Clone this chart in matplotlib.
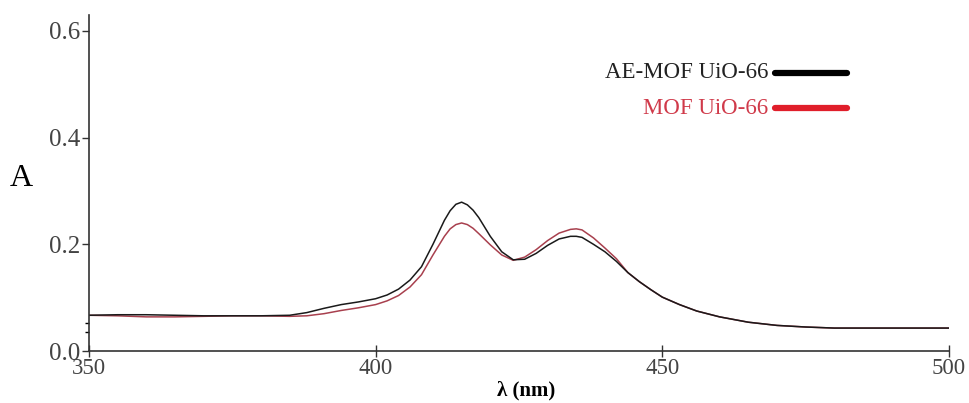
import matplotlib
matplotlib.use("Agg")
from matplotlib import pyplot as plt
from matplotlib.lines import Line2D

wavelength = [350, 355, 360, 365, 370, 375, 380, 385, 388, 391, 394, 397, 400,
              402, 404, 406, 408, 410, 412, 413, 414, 415, 416, 417, 418, 420,
              422, 424, 426, 428, 430, 432, 434, 435, 436, 438, 440, 442, 444,
              446, 448, 450, 453, 456, 460, 465, 470, 475, 480, 490, 500]

ae_mof = [0.067, 0.068, 0.068, 0.067, 0.066, 0.066, 0.066, 0.067, 0.072, 0.080,
          0.087, 0.092, 0.098, 0.105, 0.116, 0.133, 0.158, 0.200, 0.245, 0.263,
          0.275, 0.279, 0.274, 0.264, 0.250, 0.215, 0.186, 0.171, 0.172, 0.183,
          0.198, 0.210, 0.215, 0.215, 0.213, 0.200, 0.186, 0.168, 0.147, 0.130,
          0.115, 0.101, 0.087, 0.075, 0.064, 0.054, 0.048, 0.045, 0.043, 0.043,
          0.043]

mof = [0.067, 0.066, 0.064, 0.064, 0.065, 0.066, 0.066, 0.065, 0.066, 0.070,
       0.076, 0.081, 0.087, 0.094, 0.104, 0.120, 0.143, 0.180, 0.215, 0.229,
       0.237, 0.240, 0.237, 0.230, 0.220, 0.199, 0.180, 0.170, 0.176, 0.190,
       0.207, 0.221, 0.228, 0.229, 0.227, 0.212, 0.193, 0.173, 0.147, 0.130,
       0.115, 0.101, 0.087, 0.075, 0.064, 0.054, 0.048, 0.045, 0.043, 0.043,
       0.043]

x_ticks = [350, 400, 450, 500]
y_ticks = [0.0, 0.2, 0.4, 0.6]
y_minor = [0.036, 0.052]

black = "#1a1a1a"
red_line = "#a8404e"
red_key = "#e01e2a"
red_text = "#d03a4a"

plt.rcParams["font.family"] = ["Liberation Serif", "DejaVu Serif"]

fig = plt.figure(figsize=(9.69, 4.03), dpi=100)
ax = fig.add_axes([0.0918, 0.129, 0.8875, 0.834])

ax.plot(wavelength, mof, c=red_line, lw=1.1)
ax.plot(wavelength, ae_mof, c=black, lw=1.1)

ax.set_xlim(350, 500)
ax.set_ylim(0, 0.63)
ax.set_xticks(x_ticks)
ax.set_yticks(y_ticks)
ax.set_yticks(y_minor, minor=True)
ax.set_yticklabels(["0.0", "0.2", "0.4", "0.6"])

for side in ("top", "right"):
    ax.spines[side].set_visible(False)
for side in ("left", "bottom"):
    ax.spines[side].set_color("#333333")
    ax.spines[side].set_linewidth(1.2)

ax.tick_params(axis="x", direction="inout", length=8, width=1.0,
               labelsize=16.5, pad=1, colors="#333333", labelcolor="#444444")
ax.tick_params(axis="y", direction="out", length=5, width=1.0,
               labelsize=18, pad=1, colors="#333333", labelcolor="#444444")
ax.tick_params(axis="y", which="minor", direction="out", length=3, width=1.0)

ax.set_xlabel("λ (nm)", fontsize=15, fontweight="bold")
ax.xaxis.set_label_coords(0.508, -0.088)
fig.text(0.010, 0.558, "A", fontsize=23, ha="left", va="center")

# key, text to the left of a thick line
fig.text(0.7926, 0.819, "AE-MOF UiO-66", fontsize=16.5, color="#222222",
         ha="right", va="center")
fig.text(0.7926, 0.732, "MOF UiO-66", fontsize=16.5, color=red_text,
         ha="right", va="center")
fig.add_artist(Line2D([0.7995, 0.8745], [0.819, 0.819], transform=fig.transFigure,
                      c="black", lw=4.5, solid_capstyle="round"))
fig.add_artist(Line2D([0.7995, 0.8745], [0.732, 0.732], transform=fig.transFigure,
                      c=red_key, lw=4.5, solid_capstyle="round"))

fig.savefig("out.png", dpi=100)
